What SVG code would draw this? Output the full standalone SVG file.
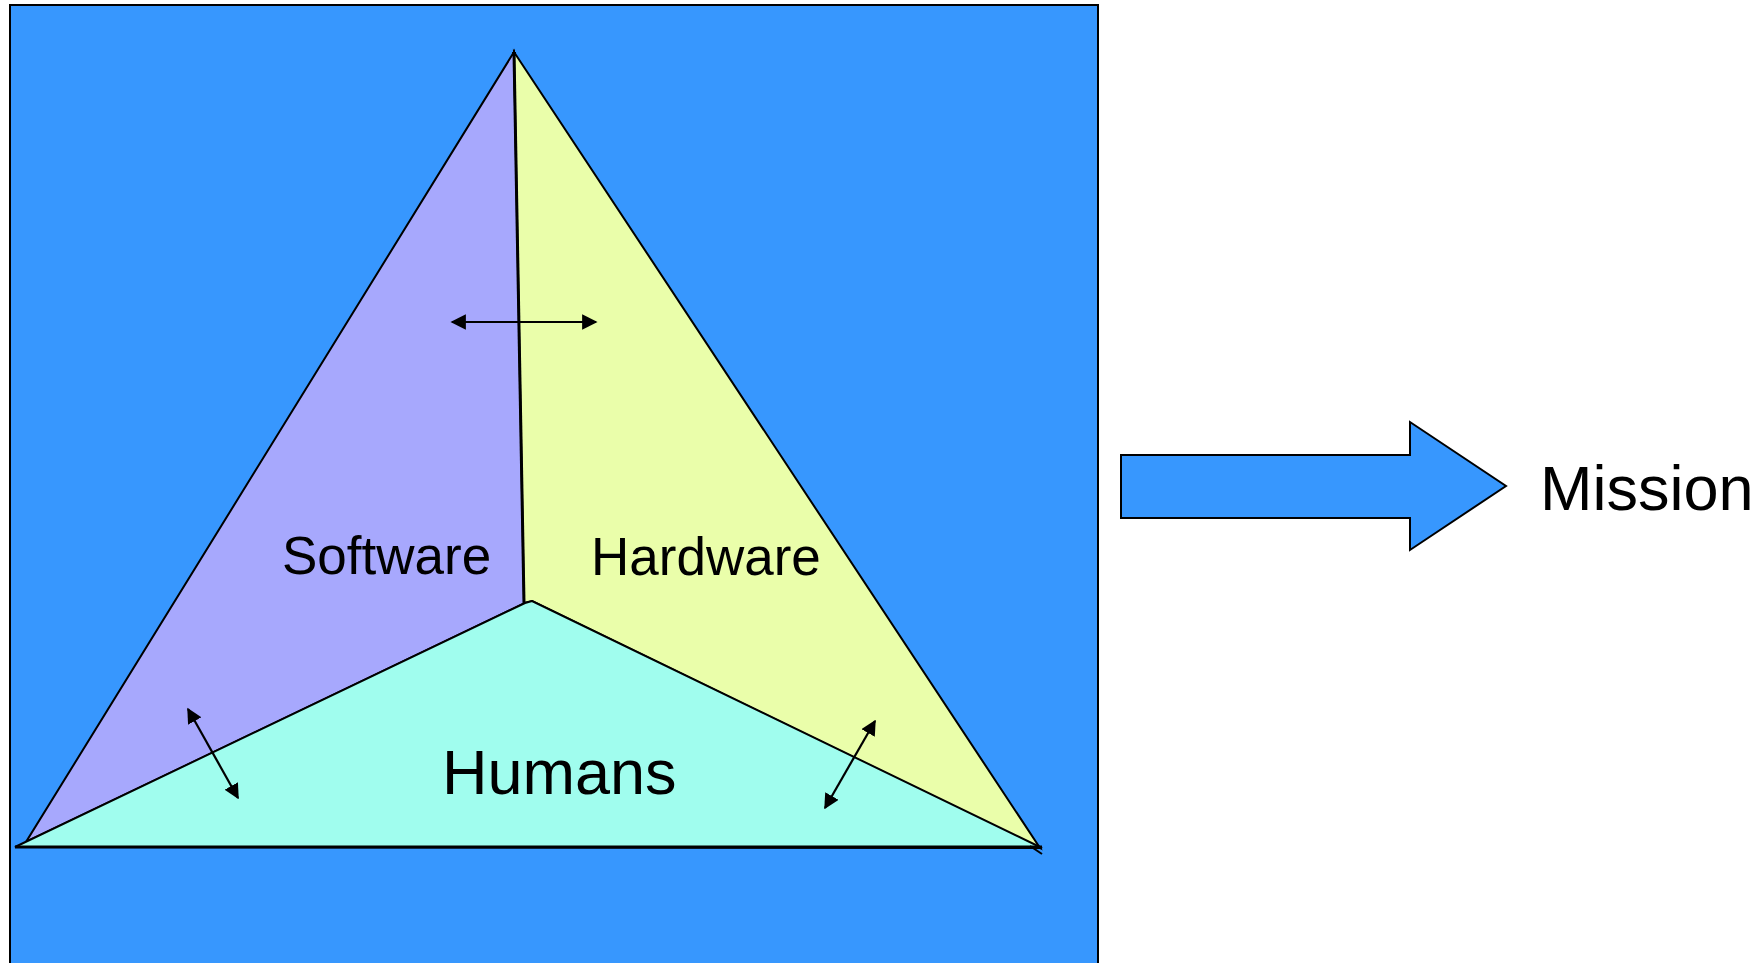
<svg xmlns="http://www.w3.org/2000/svg" width="1763" height="963" viewBox="0 0 1763 963">
<style>
.edge{stroke:#000;stroke-width:2;stroke-linejoin:miter}
.lbl{font-family:"Liberation Sans",Arial,sans-serif;fill:#000}
.dbl{stroke:#000;stroke-width:2.2;fill:none;marker-start:url(#ah);marker-end:url(#ah)}
</style>
<defs>
<marker id="ah" viewBox="0 0 10 10" refX="9" refY="5" markerWidth="7" markerHeight="7" orient="auto-start-reverse" markerUnits="strokeWidth">
<path d="M0,0 L10,5 L0,10 Z" fill="#000"/>
</marker>
</defs>
<rect width="1763" height="963" fill="#fff"/>
<g id="frame">
<rect x="10" y="5" width="1088" height="970" fill="#3797FE" stroke="#000" stroke-width="2"/>
</g>
<g id="software">
<polygon class="edge" points="514,52 26,842 525,603" fill="#A7A8FD"/>
<text class="lbl" x="282" y="574" font-size="53">Software</text>
</g>
<g id="hardware">
<polygon class="edge" points="514,52 1040,848 532,601 524,603" fill="#EAFEAA"/>
<text class="lbl" x="591" y="575" font-size="53">Hardware</text>
</g>
<g id="humans">
<polygon class="edge" points="532,601 1042,848 15,847 525,603" fill="#A0FDEE"/>
<line x1="15" y1="847" x2="1042" y2="847" stroke="#000" stroke-width="3"/>
<path d="M1030,846 L1042,854" stroke="#000" stroke-width="2"/>
<text class="lbl" x="442" y="794" font-size="63">Humans</text>
</g>
<g id="divider">
<line x1="514" y1="52" x2="524" y2="603" stroke="#000" stroke-width="3"/>
<rect x="512" y="52" width="4" height="4" fill="#000"/>
</g>
<g id="connectors">
<line class="dbl" x1="452" y1="322" x2="596" y2="322"/>
<line class="dbl" x1="188" y1="709" x2="238" y2="798"/>
<line class="dbl" x1="875" y1="721" x2="825" y2="808"/>
</g>
<g id="mission-arrow">
<polygon points="1121,455 1410,455 1410,422 1506,486 1410,550 1410,518 1121,518" fill="#3797FE" stroke="#000" stroke-width="2"/>
</g>
<g id="mission">
<text class="lbl" x="1540" y="510" font-size="63">Mission</text>
</g>
</svg>
